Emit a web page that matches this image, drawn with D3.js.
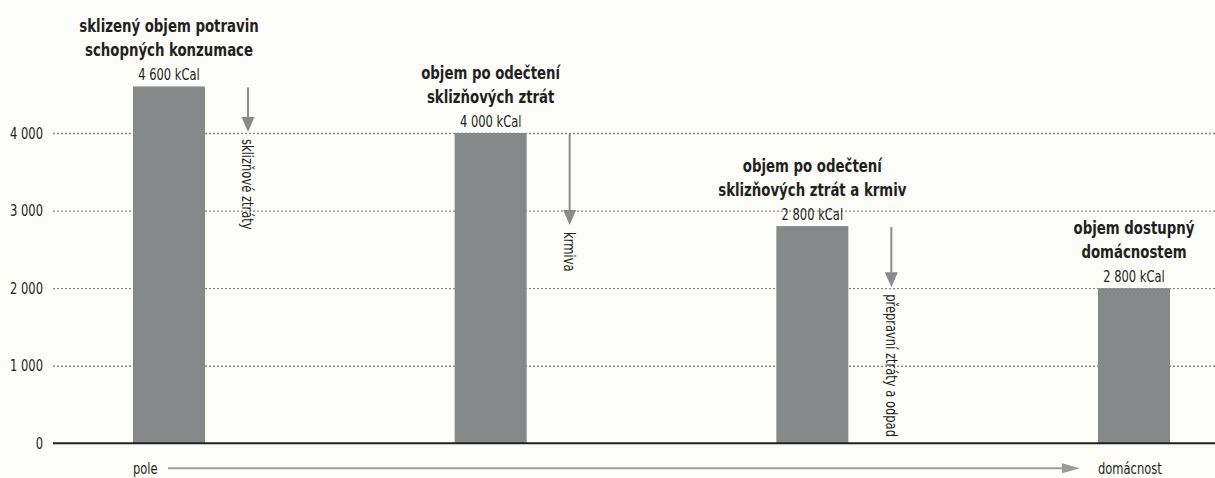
<!DOCTYPE html>
<html lang="cs">
<head>
<meta charset="utf-8">
<script src="https://cdn.jsdelivr.net/npm/d3@7"></script>
<style>
  html, body { margin: 0; padding: 0; background: #fcfcf8; }
  svg { display: block; }
  text { font-family: "DejaVu Sans Condensed", "DejaVu Sans", sans-serif; font-stretch: condensed; fill: #231f20; font-size: 16px; }
  .title { font-weight: bold; font-size: 17px; }
</style>
</head>
<body>
<svg id="chart" width="1215" height="478"></svg>
<script>
// Energy in the food chain, field to household (kCal)
const titleLines = [
  ["sklizený objem potravin", "schopných konzumace"],
  ["objem po odečtení", "sklizňových ztrát"],
  ["objem po odečtení", "sklizňových ztrát a krmiv"],
  ["objem dostupný", "domácnostem"]
];
const values = [4600, 4000, 2800, 2000];
const valueLabels = ["4 600 kCal", "4 000 kCal", "2 800 kCal", "2 800 kCal"];
const lossLabels = ["sklizňové ztráty", "krmiva", "přepravní ztráty a odpad"];
const yTicks = [0, 1000, 2000, 3000, 4000];
const flowEnds = ["pole", "domácnost"];

const W = 1215, H = 478;
const left = 53, zeroY = 443.3, topTickY = 133;
const barW = 72;
const SX = 0.8;       // horizontal squeeze for a narrow typeface look
const SX_BOLD = 0.87;

const svg = d3.select("#chart");

const x = d3.scalePoint().domain(d3.range(values.length)).range([169, 1134]);
const y = d3.scaleLinear().domain([0, 4000]).range([zeroY, topTickY]);

const cz = d3.formatLocale({ decimal: ",", thousands: " ", grouping: [3], currency: ["", ""] });
const fmt = cz.format(",");

// text placed at (px, py), optionally rotated, squeezed along its reading direction
function label(parent, px, py, str, opts = {}) {
  const rot = opts.rotate ? ` rotate(${opts.rotate})` : "";
  const s = opts.cls === "title" ? SX_BOLD : SX;
  return parent.append("text")
    .attr("transform", `translate(${px},${py})${rot} scale(${s},1)`)
    .attr("text-anchor", opts.anchor || "start")
    .attr("dy", opts.dy || null)
    .attr("class", opts.cls || null)
    .text(str);
}

// gridlines and tick labels
const yAxis = d3.axisLeft(y)
  .tickValues(yTicks)
  .tickSize(-(W - left))
  .tickPadding(10)
  .tickFormat(fmt);

const gy = svg.append("g")
  .attr("transform", `translate(${left},0)`)
  .call(yAxis);
gy.select(".domain").remove();
gy.selectAll(".tick line")
  .attr("stroke", "#8a8a8a")
  .attr("stroke-width", 1.3)
  .attr("stroke-dasharray", "2,2");
gy.selectAll(".tick text")
  .attr("fill", "#231f20")
  .attr("font-size", null)
  .attr("font-family", null)
  .attr("x", -10 / SX)
  .attr("transform", `scale(${SX},1)`);
gy.selectAll(".tick").filter(d => d === 0).select("line").attr("opacity", 0);

// bars
svg.append("g").selectAll("rect")
  .data(values)
  .join("rect")
  .attr("x", (d, i) => x(i) - barW / 2)
  .attr("y", d => y(d))
  .attr("width", barW)
  .attr("height", d => y(0) - y(d))
  .attr("fill", "#868989");

// baseline
svg.append("line")
  .attr("x1", left).attr("x2", W)
  .attr("y1", y(0)).attr("y2", y(0))
  .attr("stroke", "#231f20").attr("stroke-width", 2);

// labels above bars
const labels = svg.append("g");
values.forEach((v, i) => {
  const cx = x(i), top = y(v);
  label(labels, cx, top - 6, valueLabels[i], { anchor: "middle" });
  titleLines[i].forEach((line, k) => {
    label(labels, cx, top - 6 - 24 * (titleLines[i].length - k), line, { anchor: "middle", cls: "title" });
  });
});

// loss arrows between consecutive levels
const arrowCol = "#8a8c8c";
const loss = svg.append("g");
lossLabels.forEach((txt, i) => {
  const ax = x(i) + 79;
  const from = y(values[i]) + 1;
  const tip = y(values[i + 1]) - 1;
  loss.append("line")
    .attr("x1", ax).attr("x2", ax)
    .attr("y1", from).attr("y2", tip - 12)
    .attr("stroke", arrowCol).attr("stroke-width", 2);
  loss.append("path")
    .attr("d", `M${ax - 6.5},${tip - 15}L${ax + 6.5},${tip - 15}L${ax},${tip}Z`)
    .attr("fill", arrowCol);
  label(loss, ax, tip + 7, txt, { rotate: 90, dy: "0.35em" });
});

// field -> household flow arrow
const flowY = 468.3;
label(svg, x(0) - barW / 2, flowY + 5.5, flowEnds[0]);
label(svg, x(values.length - 1) - barW / 2, flowY + 5.5, flowEnds[1]);

const flowStart = 168, flowTip = 1080;
svg.append("line")
  .attr("x1", flowStart).attr("x2", flowTip - 14)
  .attr("y1", flowY).attr("y2", flowY)
  .attr("stroke", "#9a9c9c").attr("stroke-width", 2);
svg.append("path")
  .attr("d", `M${flowTip - 18},${flowY - 5}L${flowTip},${flowY}L${flowTip - 18},${flowY + 5}Z`)
  .attr("fill", "#9a9c9c");
</script>
</body>
</html>
